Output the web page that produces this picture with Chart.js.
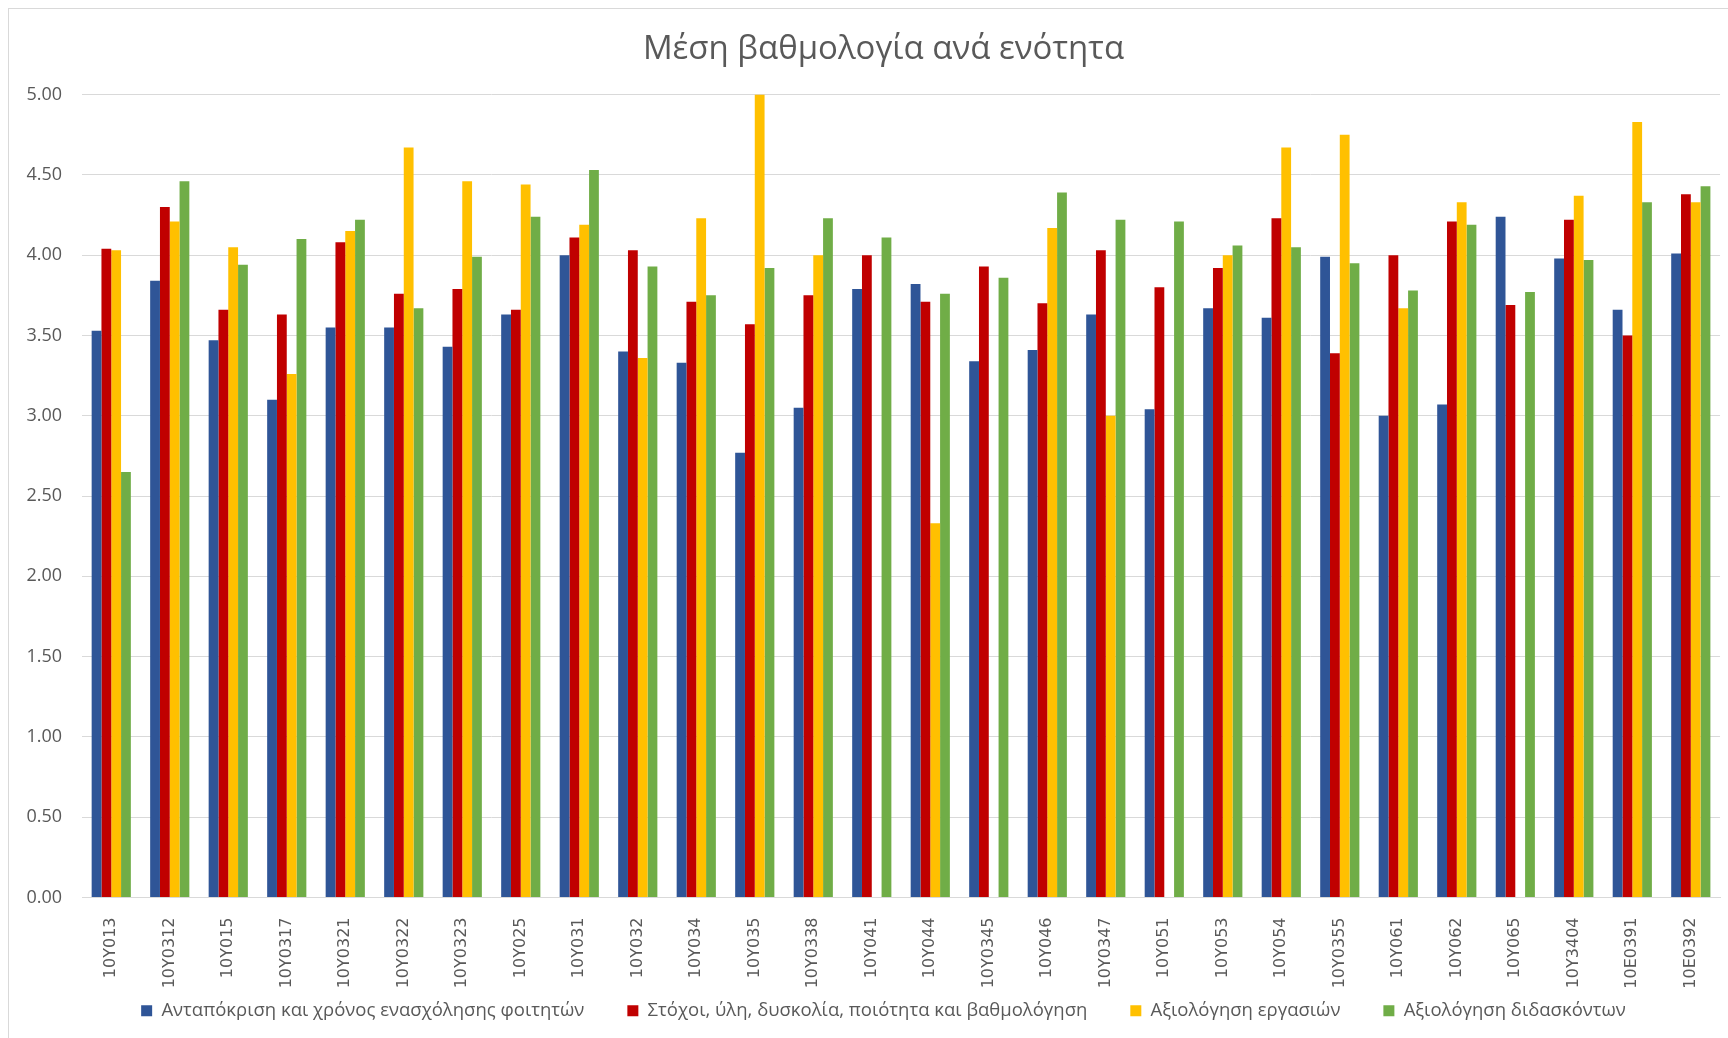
<!DOCTYPE html>
<html>
<head>
<meta charset="utf-8">
<script src="https://cdn.jsdelivr.net/npm/chart.js@4.4.0/dist/chart.umd.min.js"></script>
<style>
  html, body { margin: 0; padding: 0; background: #fff; overflow: hidden; }
  #box {
    position: absolute; left: 8px; top: 8px;
    width: 1730px; height: 1040px;
    border-top: 1px solid #d9d9d9; border-left: 1px solid #d9d9d9; background: #fff;
  }
</style>
</head>
<body>
<div id="box"><canvas id="chart" width="1713" height="1022"></canvas></div>
<script>
'use strict';

// categories (course codes)
var labels = ['10Y013', '10Y0312', '10Y015', '10Y0317', '10Y0321', '10Y0322', '10Y0323',
  '10Y025', '10Y031', '10Y032', '10Y034', '10Y035', '10Y0338', '10Y041', '10Y044',
  '10Y0345', '10Y046', '10Y0347', '10Y051', '10Y053', '10Y054', '10Y0355', '10Y061',
  '10Y062', '10Y065', '10Y3404', '10E0391', '10E0392'];

var responseTime = [3.53, 3.84, 3.47, 3.10, 3.55, 3.55, 3.43, 3.63, 4.00, 3.40, 3.33, 2.77, 3.05, 3.79,
  3.82, 3.34, 3.41, 3.63, 3.04, 3.67, 3.61, 3.99, 3.00, 3.07, 4.24, 3.98, 3.66, 4.01];
var goalsMaterial = [4.04, 4.30, 3.66, 3.63, 4.08, 3.76, 3.79, 3.66, 4.11, 4.03, 3.71, 3.57, 3.75, 4.00,
  3.71, 3.93, 3.70, 4.03, 3.80, 3.92, 4.23, 3.39, 4.00, 4.21, 3.69, 4.22, 3.50, 4.38];
var assignments = [4.03, 4.21, 4.05, 3.26, 4.15, 4.67, 4.46, 4.44, 4.19, 3.36, 4.23, 5.00, 4.00, null,
  2.33, null, 4.17, 3.00, null, 4.00, 4.67, 4.75, 3.67, 4.33, null, 4.37, 4.83, 4.33];
var teachers = [2.65, 4.46, 3.94, 4.10, 4.22, 3.67, 3.99, 4.24, 4.53, 3.93, 3.75, 3.92, 4.23, 4.11,
  3.76, 3.86, 4.39, 4.22, 4.21, 4.06, 4.05, 3.95, 3.78, 4.19, 3.77, 3.97, 4.33, 4.43];

var seriesNames = ['Ανταπόκριση και χρόνος ενασχόλησης φοιτητών',
  'Στόχοι, ύλη, δυσκολία, ποιότητα και βαθμολόγηση',
  'Αξιολόγηση εργασιών',
  'Αξιολόγηση διδασκόντων'];
var colors = ['#2F5597', '#C00000', '#FFC000', '#70AD47'];

var yTicks = [0, 0.5, 1, 1.5, 2, 2.5, 3, 3.5, 4, 4.5, 5];

var allSeries = [responseTime, goalsMaterial, assignments, teachers];
var datasets = allSeries.map(function (vals, i) {
  return {
    label: seriesNames[i],
    data: vals,
    backgroundColor: colors[i],
    borderWidth: 0,
    barPercentage: 1.0,
    categoryPercentage: 0.67
  };
});

// let tick labels spill outside their axis box (x labels run into legend padding)
var noClip = {
  id: 'noClip',
  afterLayout: function (c) {
    Object.keys(c.scales).forEach(function (k) {
      c.scales[k]._computeLabelArea = function () { return undefined; };
    });
  }
};

var ctx = document.getElementById('chart').getContext('2d');
var chart = new Chart(ctx, {
  type: 'bar',
  data: { labels: labels, datasets: datasets },
  plugins: [noClip],
  options: {
    responsive: false,
    animation: false,
    layout: { padding: { left: 36, right: 0, top: 21, bottom: 1 } },
    plugins: {
      title: {
        display: true,
        text: 'Μέση βαθμολογία ανά ενότητα',
        color: '#595959',
        font: { family: 'Open Sans', size: 33, weight: 'normal' },
        padding: { top: 0, bottom: 25 }
      },
      legend: {
        position: 'bottom',
        labels: {
          color: '#595959',
          font: { family: 'Open Sans', size: 18.5 },
          boxWidth: 11,
          boxHeight: 11,
          padding: 43
        }
      },
      tooltip: { enabled: false }
    },
    scales: {
      x: {
        grid: { display: false },
        border: { color: '#d9d9d9', width: 1 },
        afterFit: function (s) { s.height = 61; },
        ticks: {
          color: '#595959',
          font: { family: 'DejaVu Sans', size: 16 },
          minRotation: 90,
          maxRotation: 90,
          padding: 12,
          autoSkip: false
        }
      },
      y: {
        min: 0,
        max: 5,
        afterBuildTicks: function (scale) {
          scale.ticks = yTicks.map(function (v) { return { value: v }; });
        },
        afterFit: function (s) { s.width = 37; },
        grid: { color: '#d9d9d9', drawTicks: false },
        border: { display: false },
        ticks: {
          color: '#595959',
          font: { family: 'Open Sans', size: 18 },
          padding: 20,
          callback: function (v) { return Number(v).toFixed(2); }
        }
      }
    }
  }
});
</script>
</body>
</html>
